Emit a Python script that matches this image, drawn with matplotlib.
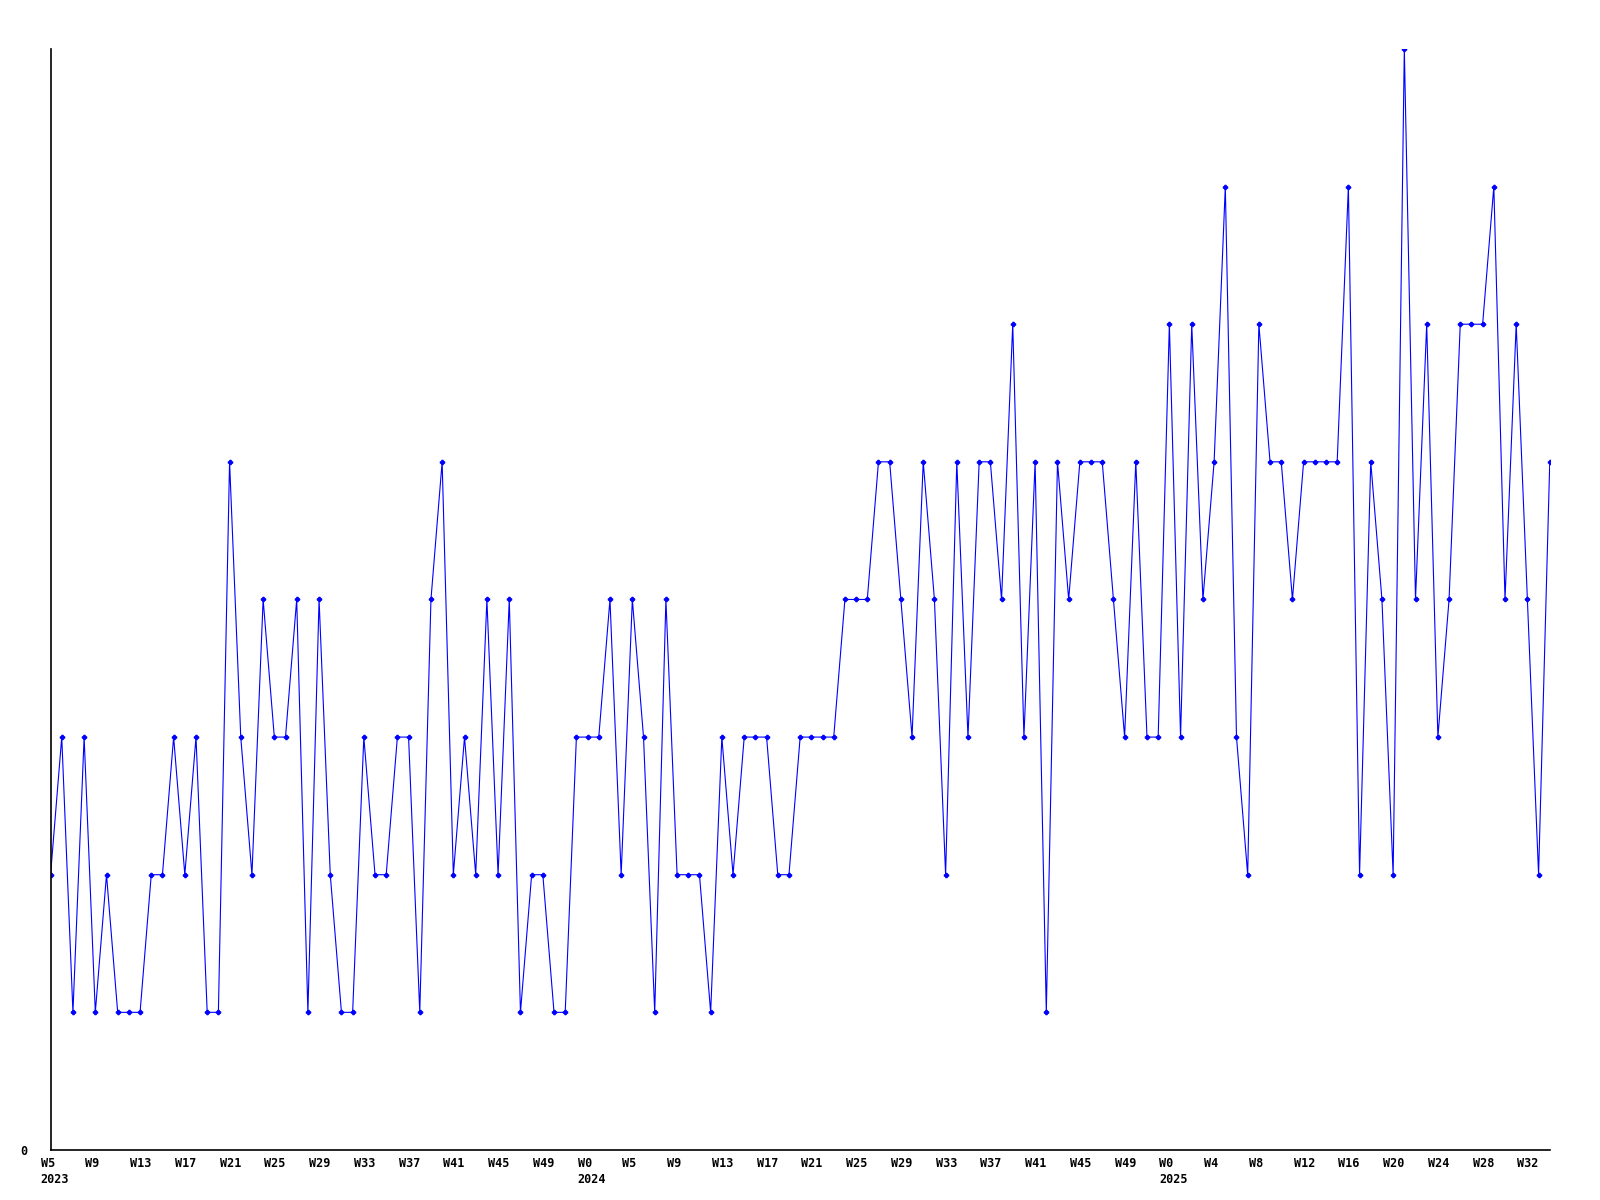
import matplotlib
matplotlib.use("Agg")
import matplotlib.pyplot as plt
import matplotlib.transforms as mtransforms

plt.rcParams['font.family'] = 'DejaVu Sans Mono'
plt.rcParams['font.weight'] = 'bold'

# weekly counts, W5 2023 .. W34 2025
counts = [2, 3, 1, 3, 1, 2, 1, 1, 1, 2,
          2, 3, 2, 3, 1, 1, 5, 3, 2, 4,
          3, 3, 4, 1, 4, 2, 1, 1, 3, 2,
          2, 3, 3, 1, 4, 5, 2, 3, 2, 4,
          2, 4, 1, 2, 2, 1, 1, 3, 3, 3,
          4, 2, 4, 3, 1, 4, 2, 2, 2, 1,
          3, 2, 3, 3, 3, 2, 2, 3, 3, 3,
          3, 4, 4, 4, 5, 5, 4, 3, 5, 4,
          2, 5, 3, 5, 5, 4, 6, 3, 5, 1,
          5, 4, 5, 5, 5, 4, 3, 5, 3, 3,
          6, 3, 6, 4, 5, 7, 3, 2, 6, 5,
          5, 4, 5, 5, 5, 5, 7, 2, 5, 4,
          2, 8, 4, 6, 3, 4, 6, 6, 6, 7,
          4, 6, 4, 2, 5]

week_labels = ['W5', 'W9', 'W13', 'W17', 'W21', 'W25', 'W29', 'W33', 'W37', 'W41', 'W45', 'W49',
               'W0',
               'W5', 'W9', 'W13', 'W17', 'W21', 'W25', 'W29', 'W33', 'W37', 'W41', 'W45', 'W49',
               'W0',
               'W4', 'W8', 'W12', 'W16', 'W20', 'W24', 'W28', 'W32']
year_ticks = [0, 48, 100]
years = ['2023', '2024', '2025']

x = list(range(len(counts)))
tick_pos = list(range(0, 4 * len(week_labels), 4))
labels = []
for p, w in zip(tick_pos, week_labels):
    if p in year_ticks:
        w = w + '\n' + years[year_ticks.index(p)]
    labels.append(w)

fig = plt.figure(figsize=(16, 12), dpi=100)
ax = fig.add_axes([0.0316, 0.0417, 0.937, 0.9175])

ax.plot(x, counts, color='#0000ff', linewidth=0.8, marker='P', markersize=3)

ax.set_xlim(0, len(counts) - 1)
ax.set_ylim(0, 8)
ax.set_yticks([0])
ax.set_yticklabels(['0'])
ax.set_xticks(tick_pos)
ax.set_xticklabels(labels)

ax.spines['top'].set_visible(False)
ax.spines['right'].set_visible(False)
ax.spines['left'].set_linewidth(1.2)
ax.spines['bottom'].set_linewidth(1.2)
ax.tick_params(axis='both', length=0, labelsize=8.5)
ax.tick_params(axis='x', pad=5)
ax.tick_params(axis='y', pad=17)

offset = mtransforms.ScaledTranslation(-10 / 100, 0, fig.dpi_scale_trans)
for lab in ax.get_xticklabels():
    lab.set_horizontalalignment('left')
    lab.set_multialignment('left')
    lab.set_linespacing(1.3)
    lab.set_transform(lab.get_transform() + offset)

fig.savefig('out.png', dpi=100)
